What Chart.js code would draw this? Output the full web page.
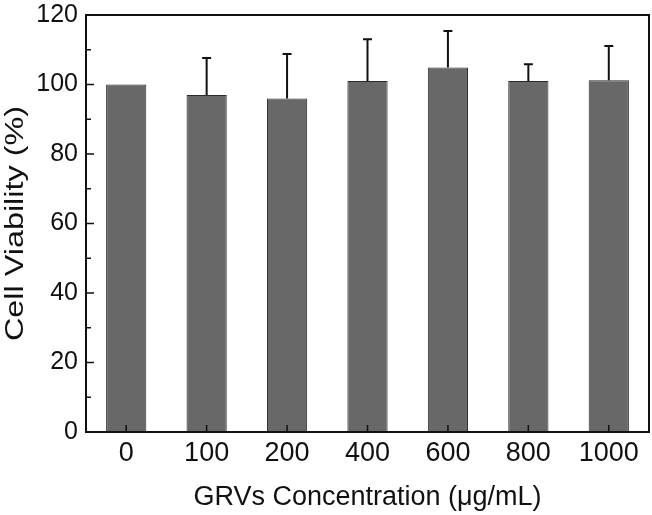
<!DOCTYPE html>
<html>
<head>
<meta charset="utf-8">
<script src="https://cdn.jsdelivr.net/npm/chart.js@4"></script>
<style>
html,body{margin:0;padding:0;background:#fff;}
#c{display:block;}
</style>
</head>
<body>
<canvas id="c" width="652" height="515"></canvas>
<script>
const categories = ['0', '100', '200', '400', '600', '800', '1000'];
const viability = [100, 97.0, 96.0, 101.0, 104.9, 101.0, 101.2];
const errorUp = [0, 10.6, 12.8, 12.0, 10.5, 4.8, 9.9];
const yMajorTicks = [0, 20, 40, 60, 80, 100, 120];
const yMinorTicks = [10, 30, 50, 70, 90, 110];
const xTitle = 'GRVs Concentration (\u03bcg/mL)';
const yTitle = 'Cell Viability (%)';

const FONT = '"Liberation Sans", Arial, Helvetica, sans-serif';

const framePlugin = {
  id: 'frame',
  afterDatasetsDraw(chart) {
    const ctx = chart.ctx;
    const a = chart.chartArea;
    const xs = chart.scales.x, ys = chart.scales.y;
    ctx.save();
    // error bars
    const meta = chart.getDatasetMeta(0);
    ctx.strokeStyle = '#111';
    ctx.lineWidth = 2;
    meta.data.forEach((bar, i) => {
      if (!errorUp[i]) return;
      const x = bar.x;
      const y0 = ys.getPixelForValue(viability[i]);
      const y1 = ys.getPixelForValue(viability[i] + errorUp[i]);
      ctx.beginPath();
      ctx.moveTo(x, y0);
      ctx.lineTo(x, y1);
      ctx.moveTo(x - 4.5, y1);
      ctx.lineTo(x + 4.5, y1);
      ctx.stroke();
    });
    // inward ticks
    ctx.lineWidth = 1.5;
    ctx.beginPath();
    yMajorTicks.forEach(v => {
      const y = ys.getPixelForValue(v);
      ctx.moveTo(a.left, y); ctx.lineTo(a.left + 8, y);
    });
    yMinorTicks.forEach(v => {
      const y = ys.getPixelForValue(v);
      ctx.moveTo(a.left, y); ctx.lineTo(a.left + 5, y);
    });
    categories.forEach((c, i) => {
      const x = xs.getPixelForValue(i);
      ctx.moveTo(x, a.bottom); ctx.lineTo(x, a.bottom - 7);
    });
    ctx.stroke();
    // frame
    ctx.lineWidth = 2;
    ctx.strokeStyle = '#111';
    ctx.strokeRect(a.left, a.top, a.right - a.left, a.bottom - a.top);
    // y title (stretched along its length like the reference)
    ctx.font = '26px ' + FONT;
    ctx.fillStyle = '#111';
    ctx.textAlign = 'center';
    ctx.textBaseline = 'middle';
    const w = ctx.measureText(yTitle).width;
    const sx = 235 / w;
    ctx.translate(16, (a.top + a.bottom) / 2);
    ctx.rotate(-Math.PI / 2);
    ctx.scale(sx, 1);
    ctx.fillText(yTitle, 0, 0);
    ctx.restore();
  }
};

new Chart(document.getElementById('c'), {
  type: 'bar',
  data: {
    labels: categories,
    datasets: [{
      data: viability,
      backgroundColor: '#686868',
      borderColor: '#2a2a2a',
      borderWidth: 1,
      barPercentage: 0.5,
      categoryPercentage: 1.0
    }]
  },
  options: {
    responsive: false,
    devicePixelRatio: 1,
    animation: false,
    layout: { padding: { top: 15, right: 3, left: 0, bottom: 0 } },
    plugins: { legend: { display: false }, tooltip: { enabled: false } },
    scales: {
      x: {
        grid: { display: false, drawTicks: false },
        border: { display: false },
        ticks: { color: '#111', font: { family: FONT, size: 27 }, padding: 5, maxRotation: 0 },
        title: { display: true, text: xTitle, color: '#111', font: { family: FONT, size: 27 }, padding: { top: 2, bottom: 1 } },
        afterFit(s) { s.height = 83; }
      },
      y: {
        min: 0, max: 120,
        grid: { display: false, drawTicks: false },
        border: { display: false },
        ticks: { stepSize: 20, color: '#111', font: { family: FONT, size: 25 }, padding: 8 },
        afterFit(s) { s.width = 86; s.paddingTop = 0; s.paddingBottom = 0; }
      }
    }
  },
  plugins: [framePlugin]
});
</script>
</body>
</html>
